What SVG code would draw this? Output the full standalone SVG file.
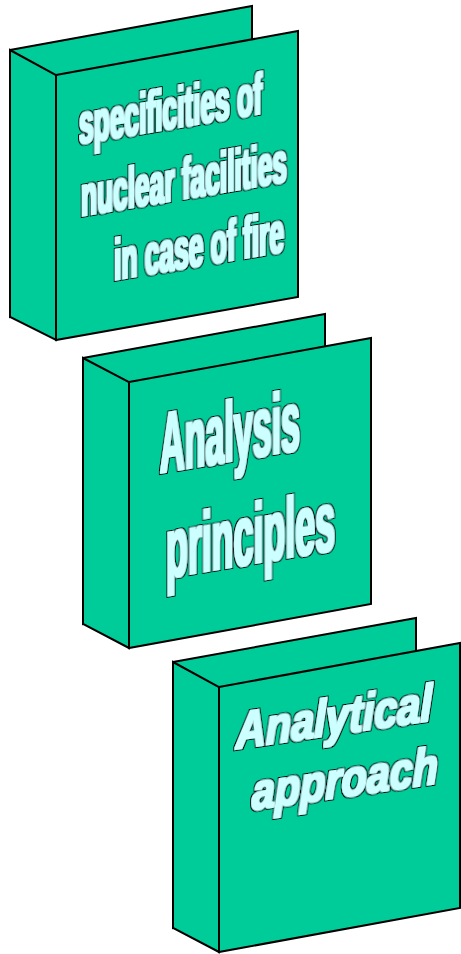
<svg xmlns="http://www.w3.org/2000/svg" width="461" height="954" viewBox="0 0 461 954">
<style>
.p{fill:#00cc99;stroke:#000;stroke-width:2;stroke-linejoin:miter}
.t{font-family:"Liberation Sans",Arial,sans-serif;font-weight:bold;fill:#ccffff;filter:url(#ol)}
.n{font-size:58px}
.b{font-size:86px}
.i{font-size:52px;font-style:italic}
</style>
<defs>
<filter id="ol" filterUnits="userSpaceOnUse" x="-60" y="-130" width="600" height="220">
<feMorphology in="SourceAlpha" operator="dilate" radius="2.4" result="o"/>
<feFlood flood-color="#000"/>
<feComposite in2="o" operator="in" result="k"/>
<feMorphology in="SourceGraphic" operator="dilate" radius="1" result="f"/>
<feMerge><feMergeNode in="k"/><feMergeNode in="f"/></feMerge>
</filter>
</defs>
<rect width="461" height="954" fill="#fff"/>
<g id="node1">
<polygon class="p" points="10,50 252,6 252,273 10,317"/>
<polygon class="p" points="10,50 56,75 56,340 10,317"/>
<polygon class="p" points="56,75 298,31 298,297 56,340"/>
<text class="t n" transform="translate(79,144) skewY(-9.5)" textLength="183" lengthAdjust="spacingAndGlyphs">specificities of</text>
<text class="t n" transform="translate(81,216) skewY(-9.5)" textLength="206" lengthAdjust="spacingAndGlyphs">nuclear facilities</text>
<text class="t n" transform="translate(114,280) skewY(-9.5)" textLength="170" lengthAdjust="spacingAndGlyphs">in case of fire</text>
</g>
<g id="node2">
<polygon class="p" points="83,358 325,314 325,580 83,624"/>
<polygon class="p" points="83,358 129,382 129,648 83,624"/>
<polygon class="p" points="129,382 371,338 371,604 129,648"/>
<text class="t b" transform="translate(160,473) skewY(-9.5)" textLength="140" lengthAdjust="spacingAndGlyphs">Analysis</text>
<text class="t b" transform="translate(166,578) skewY(-9.5)" textLength="169" lengthAdjust="spacingAndGlyphs">principles</text>
</g>
<g id="node3">
<polygon class="p" points="173,662 416,618 416,884 173,928"/>
<polygon class="p" points="173,662 219,687 219,952 173,928"/>
<polygon class="p" points="219,687 460,643 460,908 219,952"/>
<text class="t i" transform="translate(236,749) skewY(-8.3)" textLength="196" lengthAdjust="spacingAndGlyphs">Analytical</text>
<text class="t i" transform="translate(252,810) skewY(-8.2)" textLength="186" lengthAdjust="spacingAndGlyphs">approach</text>
</g>
</svg>
